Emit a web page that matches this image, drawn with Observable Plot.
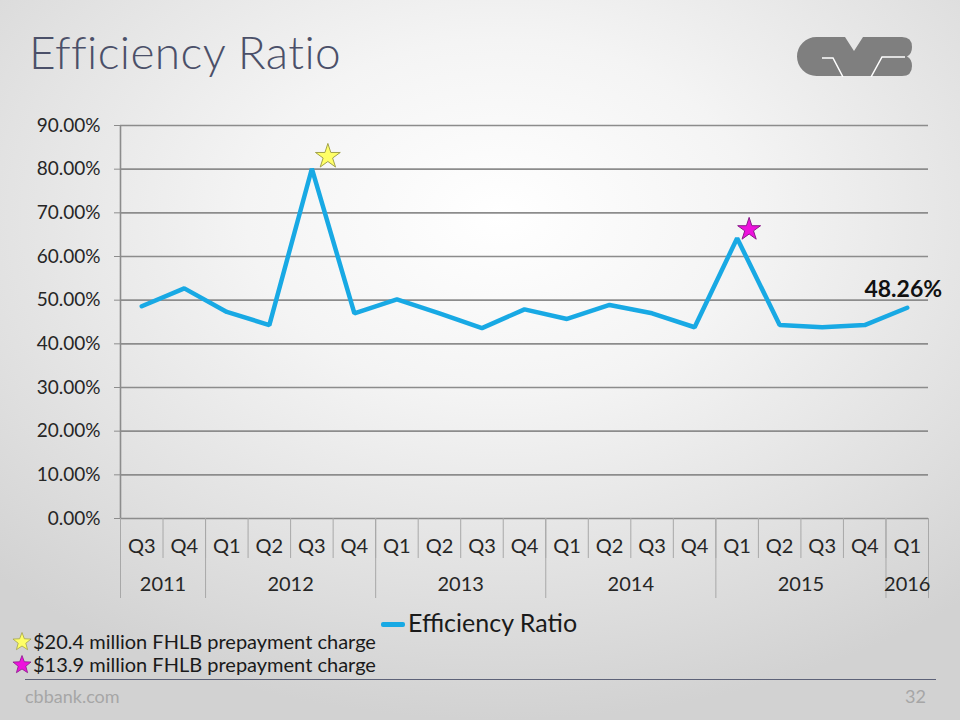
<!DOCTYPE html>
<html>
<head>
<meta charset="utf-8">
<script src="https://cdn.jsdelivr.net/npm/d3@7"></script>
<script src="https://cdn.jsdelivr.net/npm/@observablehq/plot@0.6"></script>
<style>
  html, body { margin: 0; padding: 0; }
  body {
    width: 960px; height: 720px; overflow: hidden; position: relative;
    font-family: Lato, "Open Sans", sans-serif;
    background: radial-gradient(ellipse 75% 70% at 52% 30%, #ffffff 0%, #f4f4f4 35%, #e2e2e2 70%, #d2d2d2 100%);
  }
  #header { position: relative; height: 100px; }
  #title { position: absolute; left: 29px; top: 24px; font-size: 46px; color: #4b5069; font-weight: 300; letter-spacing: 0.4px; }
  #logo { position: absolute; left: 797px; top: 37px; }
  #chart { position: absolute; left: 0; top: 100px; }
  #legend { position: absolute; top: 607px; left: 381px; font-size: 25px; color: #1a1a1a; white-space: nowrap; }
  #legend .sw { display: inline-block; width: 24px; height: 5px; background: #18a9e4; border-radius: 2px; vertical-align: middle; margin-right: 3px; position: relative; top: -1px; }
  .note { position: absolute; left: 12px; font-size: 20px; color: #1a1a1a; display: flex; align-items: center; white-space: nowrap; }
  .note svg { margin-right: 1px; }
  #rule { position: absolute; left: 25px; top: 679px; width: 911px; height: 0; border-top: 1.5px solid #5d6278; }
  #site { position: absolute; left: 25px; top: 685px; font-size: 18px; color: #a6a6a6; }
  #page { position: absolute; left: 905px; top: 685px; font-size: 18px; color: #a6a6a6; }
</style>
</head>
<body>
<div id="header">
  <div id="title">Efficiency Ratio</div>
  <svg id="logo" width="116" height="40" viewBox="0 0 116 40">
    <path d="M19.5,0 H48 L57,14 L66,0 H105 Q115,0 115,10 Q115,17 110,19.5 Q115,22 115,29 Q115,39 105,39 H19.5 A19.5,19.5 0 0 1 19.5,0 Z" fill="#7f7f7f"/>
    <polyline points="25,21 36,21 46,40" fill="none" stroke="#ffffff" stroke-width="1.5"/>
    <polyline points="74,40 85,20 108,20" fill="none" stroke="#ffffff" stroke-width="1.5"/>
  </svg>
</div>
<div id="chart"></div>
<div id="legend"><span class="sw"></span>Efficiency Ratio</div>
<div id="notes"></div>
<div id="rule"></div>
<div id="site">cbbank.com</div>
<div id="page">32</div>
<script>
// ---- data ----
const years    = ["2011","2011","2012","2012","2012","2012","2013","2013","2013","2013","2014","2014","2014","2014","2015","2015","2015","2015","2016"];
const quarters = ["Q3","Q4","Q1","Q2","Q3","Q4","Q1","Q2","Q3","Q4","Q1","Q2","Q3","Q4","Q1","Q2","Q3","Q4","Q1"];
const ratio    = [48.6, 52.7, 47.3, 44.3, 80.1, 47.0, 50.2, 47.0, 43.6, 47.9, 45.7, 48.9, 47.0, 43.8, 64.2, 44.3, 43.8, 44.3, 48.26];
const yTicks   = [0, 10, 20, 30, 40, 50, 60, 70, 80, 90];
const starIndex  = [4, 14];
const starValue  = [82.9, 66.2];
const starFill   = ["#ffff66", "#ee11dd"];
const starStroke = ["#a3a34a", "#8a1a8a"];
const starNotes  = ["$20.4 million FHLB prepayment charge", "$13.9 million FHLB prepayment charge"];

// ---- derived tables ----
const data = ratio.map((v, i) => ({i, value: v, quarter: quarters[i], year: years[i]}));
const qBounds = d3.range(0, quarters.length + 1).map(k => k - 0.5);
const yearNames = Array.from(new Set(years));
const yearGroups = yearNames.map(y => {
  const idx = years.map((yy, i) => yy === y ? i : null).filter(i => i !== null);
  return {year: y, center: d3.mean(idx), start: idx[0] - 0.5};
});
const yearBounds = yearGroups.map(g => g.start).concat([quarters.length - 0.5]);
const stars = starIndex.map((idx, k) => ({i: idx, value: starValue[k], fill: starFill[k], stroke: starStroke[k]}));

const font = 'Lato, "Open Sans", sans-serif';
const gray = "#8c8c8c";

const chart = Plot.plot({
  width: 960,
  height: 510,
  marginTop: 25,
  marginLeft: 120,
  marginRight: 32,
  marginBottom: 92,
  style: {background: "transparent", fontFamily: font, color: "#262626", overflow: "visible"},
  x: {type: "linear", domain: [-0.5, quarters.length - 0.5], axis: null},
  y: {domain: [0, 90], axis: null},
  marks: [
    Plot.gridY(yTicks, {stroke: gray, strokeOpacity: 1, strokeWidth: 1.6}),
    Plot.ruleX([-0.5], {stroke: gray, strokeWidth: 1.6}),
    Plot.axisY({ticks: yTicks, label: null, tickFormat: d => d.toFixed(2) + "%", tickSize: 6, tickPadding: 14, fontSize: 19, stroke: gray, fill: "#262626"}),
    Plot.axisX({ticks: qBounds, label: null, tickFormat: () => "", tickSize: 40, stroke: "#a8a8a8"}),
    Plot.axisX({ticks: yearBounds, label: null, tickFormat: () => "", tickSize: 80, stroke: "#a8a8a8"}),
    Plot.axisX({ticks: d3.range(quarters.length), label: null, tickFormat: i => quarters[i], tickSize: 0, tickPadding: 20, fontSize: 20, fill: "#262626"}),
    Plot.axisX({ticks: yearGroups.map(g => g.center), label: null, tickFormat: c => yearGroups.find(g => g.center === c).year, tickSize: 0, tickPadding: 58, fontSize: 20, fill: "#262626"}),
    Plot.line(data, {x: "i", y: "value", stroke: "#18a9e4", strokeWidth: 4.5, strokeLinejoin: "miter"}),
    Plot.dot([stars[0]], {x: "i", y: "value", symbol: "star", r: 7.8, fill: "fill", stroke: "stroke", strokeWidth: 1, dx: 16}),
    Plot.dot([stars[1]], {x: "i", y: "value", symbol: "star", r: 7.2, fill: "fill", stroke: "stroke", strokeWidth: 1, dx: 12}),
    Plot.text([data[data.length - 1]], {x: "i", y: "value", text: d => d.value.toFixed(2) + "%", dy: -18, dx: -4, fontSize: 23, fontWeight: "bold", fill: "#111"})
  ]
});
document.getElementById("chart").appendChild(chart);

// footnotes
const notes = document.getElementById("notes");
starNotes.forEach((t, k) => {
  const div = document.createElement("div");
  div.className = "note";
  div.style.top = (629 + k * 23) + "px";
  const pts = d3.range(10).map(j => {
    const a = -Math.PI / 2 + j * Math.PI / 5;
    const r = j % 2 === 0 ? 9.5 : 4;
    return [10 + r * Math.cos(a), 11 + r * Math.sin(a)].join(",");
  }).join(" ");
  div.innerHTML = `<svg width="20" height="20"><polygon points="${pts}" fill="${starFill[k]}" stroke="${starStroke[k]}" stroke-width="0.8"/></svg><span>${t}</span>`;
  notes.appendChild(div);
});
</script>
</body>
</html>
